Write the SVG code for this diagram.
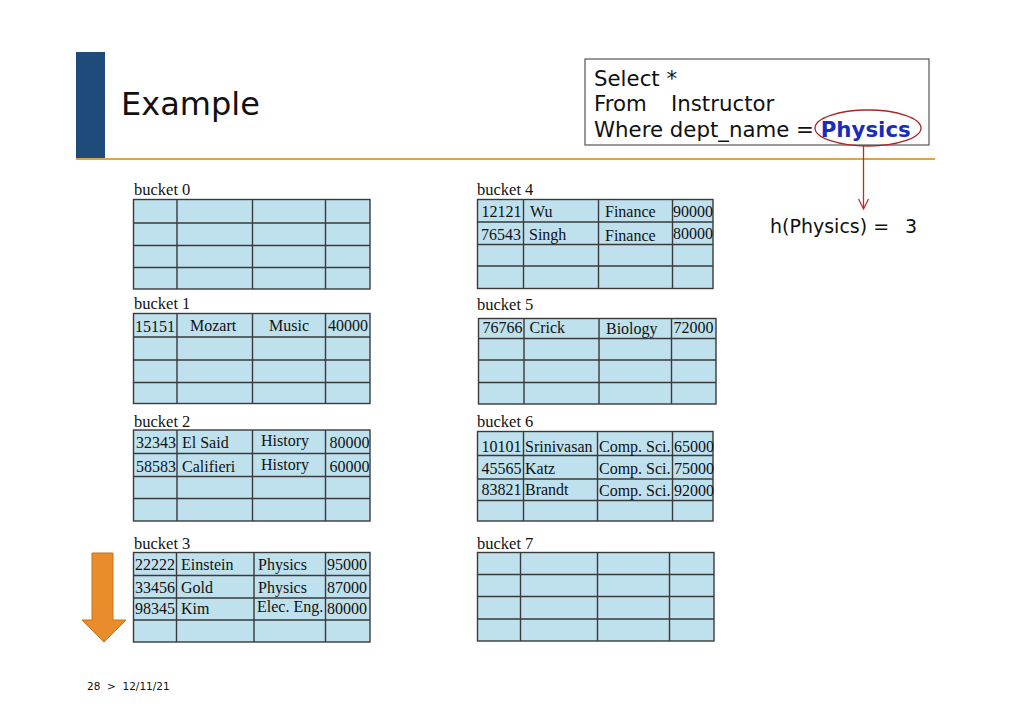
<svg xmlns="http://www.w3.org/2000/svg" width="1022" height="708" viewBox="0 0 1022 708">
<defs>
<style>
.bg{fill:#bfe1ee;stroke:#3a3a3a;stroke-width:1.4}
.ln{stroke:#3a3a3a;stroke-width:1.4;fill:none}
.lbl{font-family:"Liberation Serif","Times New Roman",serif;font-size:16.5px;fill:#111}
.c{font-family:"Liberation Serif","Times New Roman",serif;font-size:16px;fill:#111}
.sans{font-family:"DejaVu Sans",Verdana,sans-serif;fill:#111}
</style>
<marker id="vhead" viewBox="0 0 12 12" refX="11" refY="6" markerWidth="12" markerHeight="12" markerUnits="userSpaceOnUse" orient="auto">
<path d="M1,1 L11,6 L1,11" fill="none" stroke="#c0282a" stroke-width="1.2"/>
</marker>
</defs>
<rect width="1022" height="708" fill="#ffffff"/>

<g id="header">
<rect x="76" y="52" width="29" height="107" fill="#1e4b7a"/>
<line x1="76" y1="159" x2="935" y2="159" stroke="#e0a33e" stroke-width="2"/>
<text class="sans" x="121" y="115" font-size="32">Example</text>
</g>

<g id="query">
<rect x="585" y="59" width="344" height="86" fill="#ffffff" stroke="#555" stroke-width="1.2"/>
<text class="sans" x="594" y="86" font-size="21.3">Select *</text>
<text class="sans" x="594" y="111" font-size="21.3">From<tspan x="671">Instructor</tspan></text>
<text class="sans" x="594" y="137" font-size="21.3">Where dept_name = <tspan font-weight="bold" fill="#1a2cc0">Physics</tspan></text>
<ellipse cx="868" cy="128" rx="53" ry="18" fill="none" stroke="#a8262a" stroke-width="1.3"/>
</g>

<g id="hash">
<text class="sans" x="770" y="233" font-size="19">h(Physics) =<tspan x="905">3</tspan></text>
</g>

<g id="connectors">
<line x1="863.5" y1="146" x2="863.5" y2="209" stroke="#c0282a" stroke-width="1.3" marker-end="url(#vhead)"/>
</g>

<g id="scan-arrow">
<path d="M92,553 L113,553 L113,620 L126,620 L104,642 L82,620 L92,620 Z" fill="#e98c2c" stroke="#c9711d" stroke-width="1"/>
</g>

<g id="bucket0">
<text class="lbl" x="134" y="195">bucket 0</text>
<rect class="bg" x="133.5" y="199.5" width="236.5" height="89.5"/>
<path class="ln" d="M133.5,223 H370 M133.5,245.5 H370 M133.5,267.5 H370 M177,199.5 V289 M252.5,199.5 V289 M325.5,199.5 V289"/>
</g>

<g id="bucket1">
<text class="lbl" x="134" y="309">bucket 1</text>
<rect class="bg" x="133.5" y="313.5" width="236.5" height="90"/>
<path class="ln" d="M133.5,337 H370 M133.5,360 H370 M133.5,382.5 H370 M177,313.5 V403.5 M252.5,313.5 V403.5 M325.5,313.5 V403.5"/>
<text class="c" x="135" y="332">15151</text>
<text class="c" x="190" y="331">Mozart</text>
<text class="c" x="269" y="331">Music</text>
<text class="c" x="328" y="331">40000</text>
</g>

<g id="bucket2">
<text class="lbl" x="134" y="427">bucket 2</text>
<rect class="bg" x="133.5" y="430" width="236.5" height="91"/>
<path class="ln" d="M133.5,453.5 H370 M133.5,476.5 H370 M133.5,498.5 H370 M177,430 V521 M252.5,430 V521 M325.5,430 V521"/>
<text class="c" x="136" y="448">32343</text>
<text class="c" x="182" y="448">El Said</text>
<text class="c" x="261" y="446">History</text>
<text class="c" x="329.5" y="448">80000</text>
<text class="c" x="136" y="471.5">58583</text>
<text class="c" x="182" y="471.5">Califieri</text>
<text class="c" x="261" y="470">History</text>
<text class="c" x="329.5" y="471.5">60000</text>
</g>

<g id="bucket3">
<text class="lbl" x="134" y="549">bucket 3</text>
<rect class="bg" x="133.5" y="552.5" width="236.5" height="89.5"/>
<path class="ln" d="M133.5,575.5 H370 M133.5,598 H370 M133.5,620 H370 M176.5,552.5 V642 M254,552.5 V642 M325.5,552.5 V642"/>
<text class="c" x="135" y="570">22222</text>
<text class="c" x="181" y="570">Einstein</text>
<text class="c" x="258" y="570">Physics</text>
<text class="c" x="327" y="570">95000</text>
<text class="c" x="135" y="592.5">33456</text>
<text class="c" x="181" y="592.5">Gold</text>
<text class="c" x="258" y="592.5">Physics</text>
<text class="c" x="327" y="592.5">87000</text>
<text class="c" x="135" y="614">98345</text>
<text class="c" x="181" y="614">Kim</text>
<text class="c" x="257" y="612">Elec. Eng.</text>
<text class="c" x="327" y="613.5">80000</text>
</g>

<g id="bucket4">
<text class="lbl" x="477" y="195">bucket 4</text>
<rect class="bg" x="477.5" y="199.5" width="235.5" height="89"/>
<path class="ln" d="M477.5,222 H713 M477.5,244.5 H713 M477.5,266 H713 M523.5,199.5 V288.5 M598.5,199.5 V288.5 M672.5,199.5 V288.5"/>
<text class="c" x="481.5" y="216.5">12121</text>
<text class="c" x="530" y="216.5">Wu</text>
<text class="c" x="605" y="217">Finance</text>
<text class="c" x="673" y="216.5">90000</text>
<text class="c" x="481" y="240">76543</text>
<text class="c" x="529" y="240">Singh</text>
<text class="c" x="605" y="241">Finance</text>
<text class="c" x="673" y="238.5">80000</text>
</g>

<g id="bucket5">
<text class="lbl" x="477" y="310">bucket 5</text>
<rect class="bg" x="478.5" y="318.5" width="237.5" height="85.5"/>
<path class="ln" d="M478.5,338.5 H716 M478.5,360 H716 M478.5,382.5 H716 M524,318.5 V404 M599,318.5 V404 M671.5,318.5 V404"/>
<text class="c" x="482.5" y="333">76766</text>
<text class="c" x="529.5" y="333">Crick</text>
<text class="c" x="606" y="333.5">Biology</text>
<text class="c" x="673.5" y="333">72000</text>
</g>

<g id="bucket6">
<text class="lbl" x="477" y="427">bucket 6</text>
<rect class="bg" x="477.5" y="431.5" width="235.5" height="89.5"/>
<path class="ln" d="M477.5,455.5 H713 M477.5,479 H713 M477.5,500.5 H713 M523.5,431.5 V521 M597.5,431.5 V521 M672.5,431.5 V521"/>
<text class="c" x="481.5" y="451.5">10101</text>
<text class="c" x="525" y="451.5">Srinivasan</text>
<text class="c" x="599" y="451.5">Comp. Sci.</text>
<text class="c" x="674" y="451.5">65000</text>
<text class="c" x="481.5" y="474">45565</text>
<text class="c" x="525" y="474">Katz</text>
<text class="c" x="599" y="474">Comp. Sci.</text>
<text class="c" x="674" y="474">75000</text>
<text class="c" x="481.5" y="495">83821</text>
<text class="c" x="525" y="495">Brandt</text>
<text class="c" x="599" y="496">Comp. Sci.</text>
<text class="c" x="674" y="496">92000</text>
</g>

<g id="bucket7">
<text class="lbl" x="477" y="549">bucket 7</text>
<rect class="bg" x="477.5" y="552.5" width="236.5" height="88.5"/>
<path class="ln" d="M477.5,574.5 H714 M477.5,596.5 H714 M477.5,619 H714 M520.5,552.5 V641 M597.5,552.5 V641 M669.5,552.5 V641"/>
</g>

<g id="footer">
<text class="sans" x="87" y="690" font-size="10.5" xml:space="preserve">28  &gt;  12/11/21</text>
</g>
</svg>
